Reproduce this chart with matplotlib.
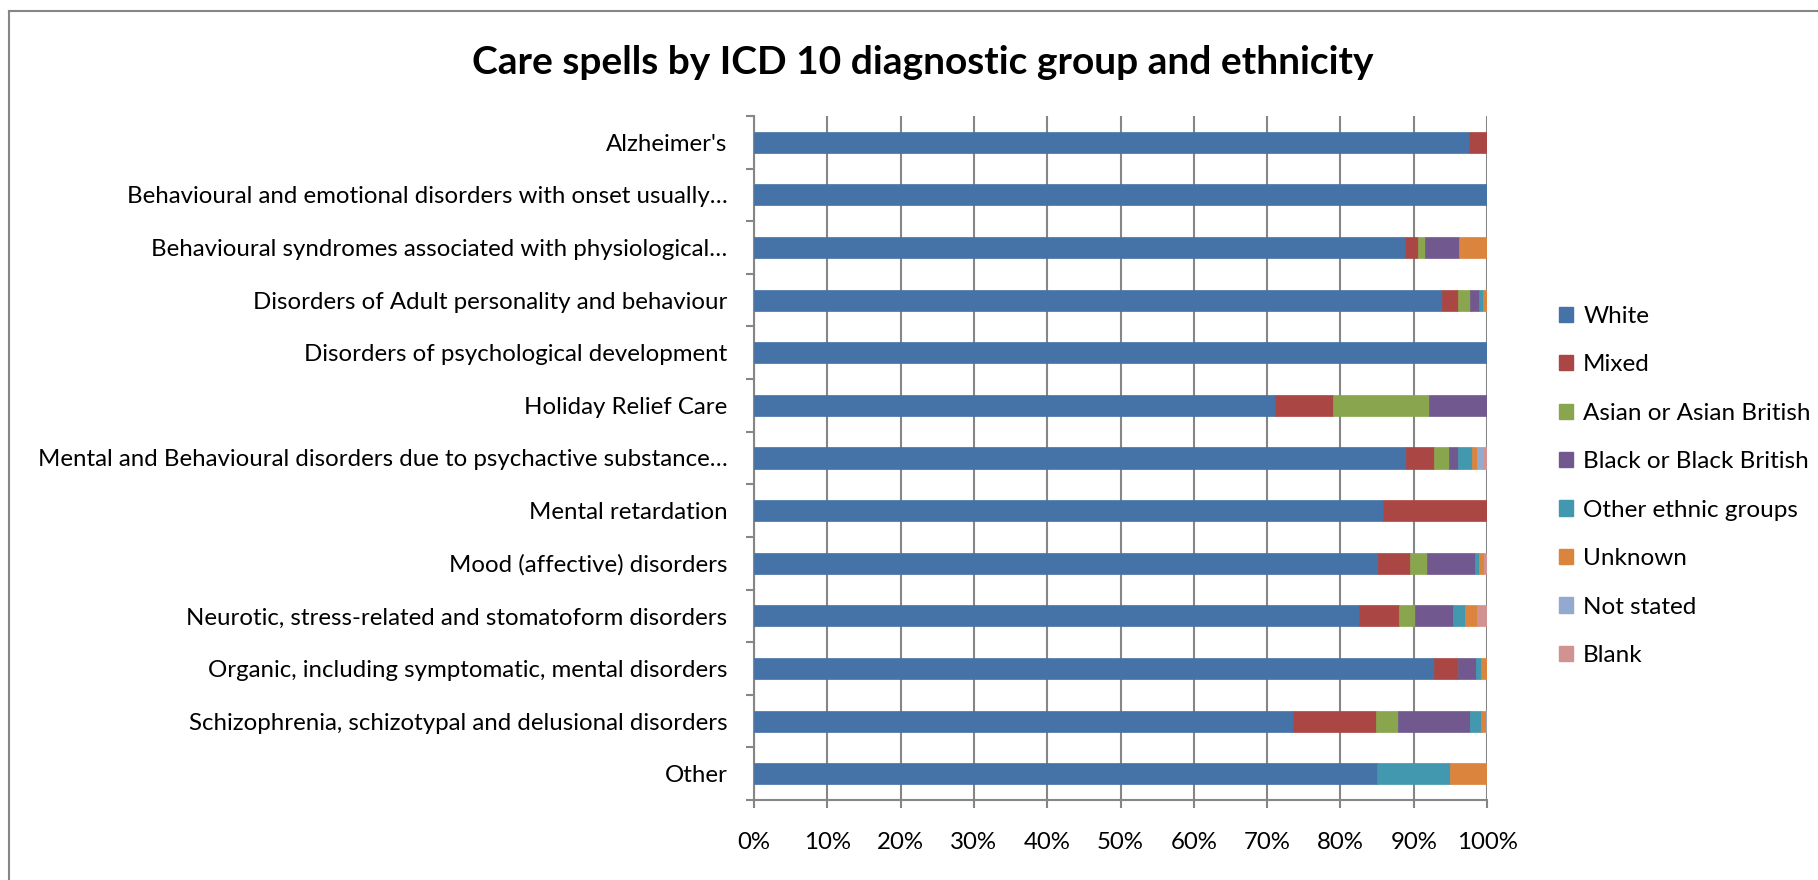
import numpy as np
import matplotlib
matplotlib.use("Agg")
import matplotlib.pyplot as plt
from matplotlib.patches import Patch
from matplotlib.ticker import FixedLocator, PercentFormatter

# -----------------------------
# Data (percent of care spells)
# -----------------------------
categories = [
    "Alzheimer's",
    "Behavioural and emotional disorders with onset usually\u2026",
    "Behavioural syndromes associated with physiological\u2026",
    "Disorders of Adult personality and behaviour",
    "Disorders of psychological development",
    "Holiday Relief Care",
    "Mental and Behavioural disorders due to psychactive substance\u2026",
    "Mental retardation",
    "Mood (affective) disorders",
    "Neurotic, stress-related and stomatoform disorders",
    "Organic, including symptomatic, mental disorders",
    "Schizophrenia, schizotypal and delusional disorders",
    "Other",
]

white      = [97.6, 100, 88.8, 93.8, 100, 71.1, 89.0, 85.8, 85.1, 82.5, 92.8, 73.5, 85.0]
mixed      = [2.4, 0, 1.8, 2.2, 0, 7.9, 3.8, 14.2, 4.4, 5.5, 3.2, 11.3, 0]
asian      = [0, 0, 1.0, 1.7, 0, 13.1, 2.0, 0, 2.3, 2.2, 0, 3.0, 0]
black      = [0, 0, 4.6, 1.2, 0, 7.9, 1.2, 0, 6.5, 5.1, 2.5, 9.9, 0]
other      = [0, 0, 0, 0.5, 0, 0, 2.0, 0, 0.6, 1.7, 0.7, 1.5, 10.0]
unknown    = [0, 0, 3.8, 0.6, 0, 0, 0.7, 0, 0.7, 1.7, 0.8, 0.6, 5.0]
not_stated = [0, 0, 0, 0, 0, 0, 0.7, 0, 0, 0, 0, 0.2, 0]
blank      = [0, 0, 0, 0, 0, 0, 0.6, 0, 0.4, 1.3, 0, 0, 0]

series_names = ["White", "Mixed", "Asian or Asian British", "Black or Black British",
                "Other ethnic groups", "Unknown", "Not stated", "Blank"]
series_vals = [white, mixed, asian, black, other, unknown, not_stated, blank]
colors = ["#4572A7", "#AA4643", "#89A54E", "#71588F",
          "#4198AF", "#DB843D", "#93A9CF", "#D19392"]

# -----------------------------
# Plot
# -----------------------------
plt.rcParams['font.family'] = ['Lato', 'DejaVu Sans']
grey = "#868686"
fs = 17.3

fig = plt.figure(figsize=(18.18, 8.8), dpi=100)
ax = fig.add_axes([754 / 1818, 80 / 880, 733 / 1818, 684 / 880])

y = np.arange(len(categories))
left = np.zeros(len(categories))
for name, vals, c in zip(series_names, series_vals, colors):
    vals = np.array(vals, dtype=float)
    ax.barh(y, vals, left=left, height=0.4, color=c, edgecolor=c,
            linewidth=0.5, label=name, zorder=3)
    left += vals

ax.set_xlim(0, 100)
ax.set_ylim(len(categories) - 0.5, -0.5)

ax.set_xticks(np.arange(0, 101, 10))
ax.xaxis.set_major_formatter(PercentFormatter(decimals=0))
ax.set_yticks(y)
ax.set_yticklabels(categories)
ax.yaxis.set_minor_locator(FixedLocator(np.arange(-0.5, len(categories), 1)))

ax.tick_params(axis='y', which='major', length=0, pad=19, labelsize=fs)
ax.tick_params(axis='y', which='minor', length=6, width=1.5, color=grey, direction='out')
ax.tick_params(axis='x', length=6, width=1.5, color=grey, direction='out',
               pad=17, labelsize=fs)

ax.grid(axis='x', color=grey, linewidth=1.5, zorder=0)
for s in ['top', 'right']:
    ax.spines[s].set_visible(False)
for s in ['left', 'bottom']:
    ax.spines[s].set_color(grey)
    ax.spines[s].set_linewidth(1.5)

handles = [Patch(facecolor=c, edgecolor=c) for c in colors]
fig.legend(handles, series_names, loc='center left',
           bbox_to_anchor=(1537 / 1818, 1 - 486 / 880), frameon=False,
           fontsize=17.5, handlelength=0.6, handleheight=0.6,
           handletextpad=0.4, labelspacing=1.13)

fig.text(923 / 1818, 1 - 62 / 880, "Care spells by ICD 10 diagnostic group and ethnicity",
         ha='center', va='center', fontsize=28, fontweight='bold')

# chart area border (runs off right and bottom edges)
fig.add_artist(plt.Line2D([9 / 1818, 9 / 1818], [0, 1 - 11 / 880],
                          color=grey, linewidth=1.5))
fig.add_artist(plt.Line2D([9 / 1818, 1], [1 - 11 / 880, 1 - 11 / 880],
                          color=grey, linewidth=1.5))

fig.savefig("out.png", dpi=100)
